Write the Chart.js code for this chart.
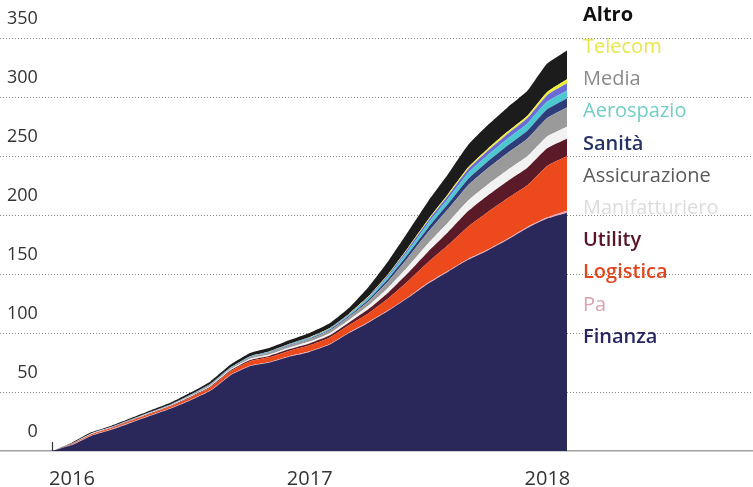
<!DOCTYPE html>
<html><head><meta charset="utf-8">
<script src="https://cdn.jsdelivr.net/npm/chart.js@4.4.1/dist/chart.umd.min.js"></script>
<style>html,body{margin:0;padding:0;background:#fff;}#wrap{position:relative;width:753px;height:487px;}</style>
</head><body><div id="wrap"><canvas id="c"></canvas></div>
<script>
// Months (Jan 2016 .. Mar 2018)
const months = ['gen 2016','feb 2016','mar 2016','apr 2016','mag 2016','giu 2016','lug 2016','ago 2016','set 2016','ott 2016','nov 2016','dic 2016',
  'gen 2017','feb 2017','mar 2017','apr 2017','mag 2017','giu 2017','lug 2017','ago 2017','set 2017','ott 2017','nov 2017','dic 2017',
  'gen 2018','feb 2018','mar 2018'];
const yearLabels = ['2016','2017','2018'];
const yTicks = [0,50,100,150,200,250,300,350];

// Stacked series, bottom to top
const finanza        = [0,5,13,18,24,30,36,43,51,64,72,75,80,84,90,100,109,119,130,142,152,162,170,179,189,197,202];
const pa             = [0,0.3,0.4,0.5,0.5,0.5,0.5,0.5,0.5,0.5,0.5,0.5,0.5,0.5,0.5,0.5,0.5,0.6,0.6,0.7,0.7,0.8,0.8,0.9,0.9,1.0,1.7];
const logistica      = [0,0.5,0.8,1.0,1.2,1.3,1.5,1.9,2.5,2.9,3.6,4.1,4.5,5.1,5.5,6.2,7.5,10.0,13.6,17.4,21.8,27.3,31.8,34.3,35.3,43.6,46.0];
const utility        = [0,0.2,0.3,0.3,0.3,0.4,0.4,0.6,0.7,0.8,1.0,1.2,1.4,1.6,1.9,2.3,3.5,5.0,7.0,9.0,11.0,13.0,14.0,14.5,14.8,15.0,15.0];
const manifatturiero = [0,0.2,0.3,0.3,0.3,0.4,0.4,0.6,0.7,0.8,1.0,1.1,1.3,1.5,1.7,2.0,3.0,4.2,5.6,7.0,8.2,9.0,9.3,9.5,9.7,9.9,10.0];
const assicurazione  = [0,0.2,0.3,0.3,0.4,0.4,0.5,0.7,0.9,1.0,1.3,1.5,1.7,2.0,2.3,2.8,3.7,5.5,7.6,9.6,11.3,13.0,13.7,14.4,15.0,15.8,16.5];
const sanita         = [0,0,0,0,0,0.1,0.1,0.1,0.2,0.2,0.3,0.3,0.4,0.5,0.6,0.8,1.5,2.2,3.0,3.8,4.5,5.3,5.8,6.3,6.8,7.3,7.6];
const aerospazio     = [0,0,0,0,0.1,0.1,0.1,0.2,0.2,0.3,0.3,0.4,0.5,0.6,0.7,0.9,1.4,2.0,2.8,3.6,4.3,5.0,5.4,5.8,6.1,6.5,6.8];
const media          = [0,0,0,0.1,0.1,0.1,0.1,0.2,0.2,0.2,0.3,0.3,0.3,0.4,0.5,0.6,0.9,1.3,1.8,2.2,2.7,3.2,3.6,4.0,4.4,5.4,6.0];
const telecom        = [0,0,0,0,0,0,0.1,0.1,0.1,0.1,0.1,0.2,0.2,0.2,0.3,0.3,0.5,0.7,0.9,1.1,1.3,1.6,1.8,2.0,2.2,2.8,3.4];
const altro          = [0,0.6,0.9,1.0,1.1,1.2,1.3,1.6,2.0,2.2,2.6,2.9,3.2,3.6,4.0,5.0,8.0,11.0,13.5,15.5,17.0,19.0,20.0,20.5,21.0,24.0,24.5];

const seriesNames = ['Finanza','Pa','Logistica','Utility','Manifatturiero','Assicurazione','Sanità','Aerospazio','Media','Telecom','Altro'];
const seriesData  = [finanza,pa,logistica,utility,manifatturiero,assicurazione,sanita,aerospazio,media,telecom,altro];
const fillColors  = ['#2a285a','#f4a6b4','#ec4a1c','#5b1a28','#f2f2f2','#9a9a9a','#2e3c7a','#4cc8d0','#6a6ad8','#f0ec3c','#1c1c1c'];
const textColors  = ['#272660','#d9a3ad','#e0451c','#5a1428','#dcdcdc','#5a5a5a','#263266','#72cfc6','#8a8a8a','#e9e64a','#111111'];
const textWeights = ['600','400','600','600','400','400','600','400','400','400','700'];

const datasets = seriesData.map((arr, k) => ({
  label: seriesNames[k],
  data: arr.map((v, i) => ({x: i, y: v})),
  backgroundColor: fillColors[k],
  borderWidth: 0,
  pointRadius: 0,
  tension: 0.15,
  fill: k === 0 ? 'origin' : '-1'
}));

const sideLegend = {
  id: 'sideLegend',
  afterDraw(chart) {
    const ctx = chart.ctx;
    ctx.save();
    // small start tick on the baseline
    const xs = chart.scales.x, b = chart.chartArea.bottom;
    const px = Math.round(xs.getPixelForValue(0)) + 0.5;
    ctx.strokeStyle = '#333';
    ctx.lineWidth = 1.2;
    ctx.beginPath(); ctx.moveTo(px, b - 9); ctx.lineTo(px, b); ctx.stroke();
    ctx.textAlign = 'left';
    ctx.textBaseline = 'middle';
    const n = seriesNames.length;
    for (let j = 0; j < n; j++) {
      const k = n - 1 - j;
      ctx.font = textWeights[k] + ' 20px "Open Sans"';
      ctx.fillStyle = textColors[k];
      ctx.fillText(seriesNames[k], 583, 15 + j * 32.2);
    }
    ctx.restore();
  }
};

new Chart(document.getElementById('c'), {
  type: 'line',
  data: { datasets },
  options: {
    responsive: true,
    maintainAspectRatio: false,
    animation: false,
    layout: { padding: { top: 38, left: 0, right: 0, bottom: 0 } },
    plugins: { legend: { display: false }, tooltip: { enabled: false } },
    scales: {
      x: {
        type: 'linear',
        min: -2.625,
        max: 35.39,
        afterBuildTicks: (s) => { s.ticks = yearLabels.map((_, i) => ({ value: i * 12 })); },
        afterFit: (s) => { s.height = 36; },
        ticks: {
          callback: (v) => yearLabels[Math.round(v / 12)],
          font: { family: 'Open Sans', size: 20 },
          color: '#333',
          padding: 8,
          labelOffset: 20,
          maxRotation: 0,
          autoSkip: false
        },
        grid: { display: false },
        border: { display: true, color: '#a0a0a0', width: 1.5 }
      },
      y: {
        stacked: true,
        min: 0,
        max: 350,
        afterBuildTicks: (s) => { s.ticks = yTicks.map(v => ({ value: v })); },
        afterFit: (s) => { s.width = 0; },
        ticks: {
          mirror: true,
          crossAlign: 'far',
          padding: 7,
          labelOffset: -19,
          font: { family: 'Open Sans', size: 18 },
          color: '#333'
        },
        grid: {
          drawTicks: false,
          color: (c) => (c.tick && c.tick.value === 0) ? 'rgba(0,0,0,0)' : '#8a8a8a',
          lineWidth: 1
        },
        border: { display: false, dash: [1, 2] }
      }
    }
  },
  plugins: [sideLegend]
});
</script>
</body></html>
